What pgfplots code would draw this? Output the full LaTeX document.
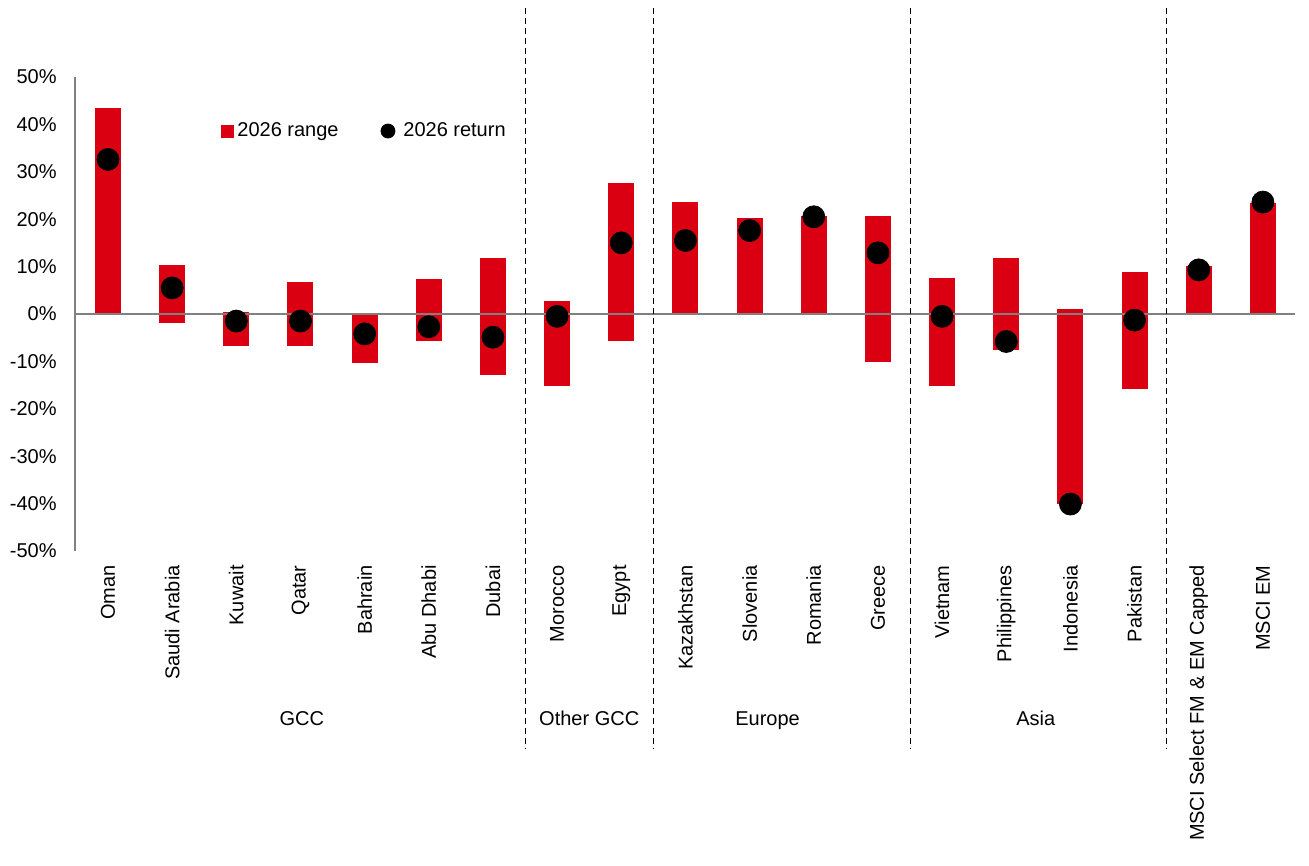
\documentclass[border=0pt]{standalone}
\usepackage{pgfplots}
\pgfplotsset{compat=1.18}
\usepackage{pgfplotstable}
\usepackage{fontspec}
\setmainfont{Liberation Sans}
\definecolor{hred}{RGB}{219,0,17}
\definecolor{agray}{RGB}{128,128,128}
\pgfplotstableread{
x lo hi ret
0 0 43.4 32.6
1 -2.0 10.3 5.5
2 -6.7 0.4 -1.5
3 -6.7 6.8 -1.5
4 -10.3 0 -4.2
5 -5.8 7.4 -2.7
6 -12.8 11.8 -4.9
7 -15.1 2.8 -0.5
8 -5.6 27.7 15.0
9 0 23.7 15.5
10 0 20.3 17.6
11 0 20.7 20.5
12 -10.1 20.7 12.9
13 -15.1 7.6 -0.5
14 -7.7 11.9 -5.8
15 -40.0 1.1 -40.1
16 -15.9 8.9 -1.3
17 0 10.2 9.3
18 0 23.5 23.6
}\data
\begin{document}
\fontsize{10}{12}\selectfont
\begin{tikzpicture}
\begin{axis}[
  scale only axis,
  width=610pt, height=237pt,
  xmin=-0.514, xmax=18.5,
  ymin=-50, ymax=50,
  clip=false,
  axis y line*=left,
  axis x line*=bottom,
  x axis line style={draw=none},
  y axis line style={agray, line width=1.3pt, -},
  major tick length=0pt,
  ytick={-50,-40,...,50},
  yticklabel={\pgfmathprintnumber{\tick}\%},
  /pgf/number format/assume math mode=true,
  yticklabel style={font=\fontsize{10}{12}\selectfont, inner sep=0pt, xshift=-9pt},
  xtick={0,...,18},
  xticklabels={Oman,Saudi Arabia,Kuwait,Qatar,Bahrain,Abu Dhabi,Dubai,Morocco,Egypt,Kazakhstan,Slovenia,Romania,Greece,Vietnam,Philippines,Indonesia,Pakistan,{MSCI Select FM \& EM Capped},MSCI EM},
  xticklabel style={font=\fontsize{10}{12}\selectfont, rotate=90, anchor=east, inner sep=0pt, yshift=0pt, xshift=-7pt},
  legend style={draw=none, fill=none, at={(rel axis cs:0.119,0.886)}, anchor=west,
     font=\fontsize{10}{12}\selectfont, inner sep=0pt,
     /tikz/every even column/.append style={column sep=19pt}},
  legend columns=2,
  legend cell align=left,
]
% invisible bounding box
\path (rel axis cs:-0.0615,-0.6646) rectangle (rel axis cs:1.0115,1.1624);
% range bars
\addplot[draw=none, mark=none, forget plot,
  error bars/.cd, y dir=plus, y explicit,
  error mark=none,
  error bar style={line width=13pt, hred, line cap=butt}]
  table[x=x, y=lo, y error expr=\thisrow{hi}-\thisrow{lo}] {\data};
% zero line
\addplot[agray, line width=1.2pt, forget plot] coordinates {(-0.514,0) (18.5,0)};
% returns
\addplot[only marks, mark=*, mark size=5.5pt, black, forget plot] table[x=x, y=ret] {\data};
% separators
\foreach \s in {6.5,8.5,12.5,16.5} {
  \edef\tmp{\noexpand\draw[black, line width=0.5pt, dash pattern=on 3pt off 2pt] (axis cs:\s,64.6) -- (axis cs:\s,-91.6);}
  \tmp
}
% group labels
\node[font=\fontsize{10}{12}\selectfont, anchor=base, inner sep=0pt] at (axis cs:3.02,-86.9) {GCC};
\node[font=\fontsize{10}{12}\selectfont, anchor=base, inner sep=0pt] at (axis cs:7.5,-86.9) {Other GCC};
\node[font=\fontsize{10}{12}\selectfont, anchor=base, inner sep=0pt] at (axis cs:10.28,-86.9) {Europe};
\node[font=\fontsize{10}{12}\selectfont, anchor=base, inner sep=0pt] at (axis cs:14.46,-86.9) {Asia};
% legend
\addlegendimage{legend image code/.code={\fill[hred] (0pt,-3pt) rectangle (6pt,3pt);}}
\addlegendentry{2026 range}
\addlegendimage{legend image code/.code={\fill[black] (3.5pt,0pt) circle (3.5pt); \path (9pt,0pt);}}
\addlegendentry{2026 return}
\end{axis}
\end{tikzpicture}
\end{document}
